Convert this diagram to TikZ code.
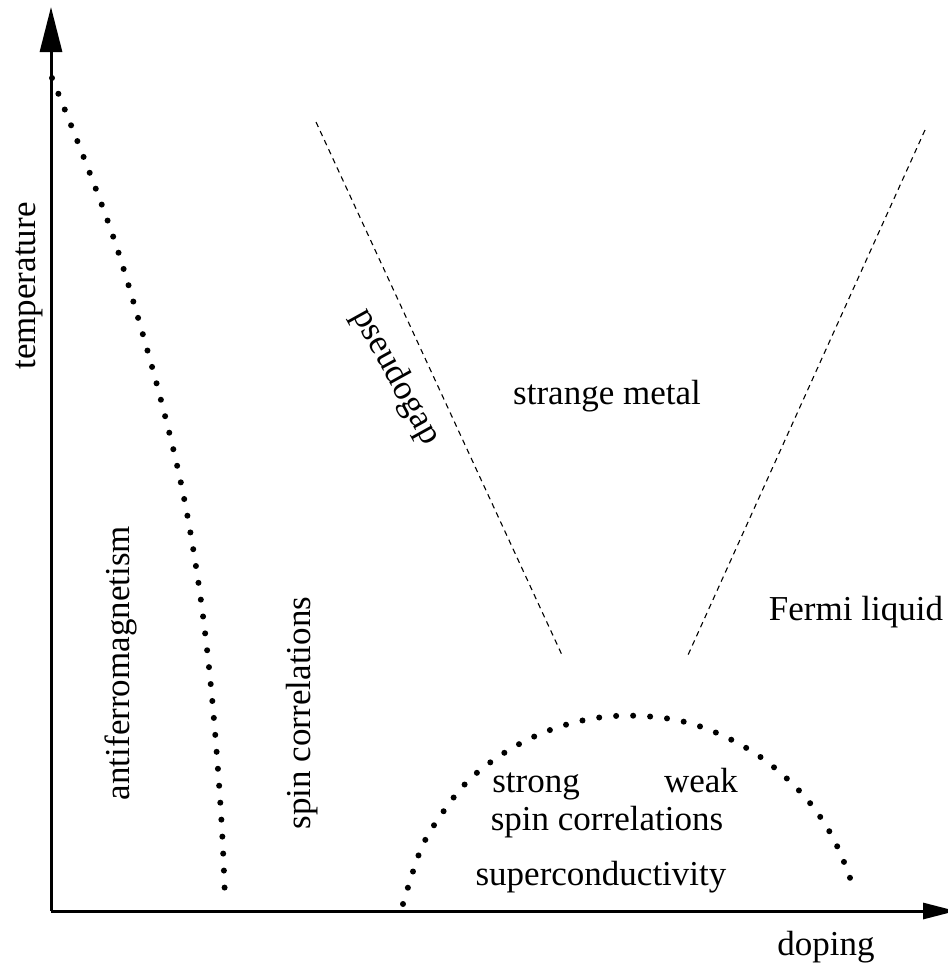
\documentclass[tikz,border=0pt]{standalone}
\usepackage{fontspec}
\setmainfont{Liberation Serif}
\usetikzlibrary{arrows.meta}
\begin{document}
\begin{tikzpicture}[x=1pt,y=-1pt,
  axis/.style={line width=3pt},
  dots/.style={line width=6pt, line cap=round, dash pattern=on 0pt off 17pt},
  dashline/.style={line width=1.1pt, dash pattern=on 5.5pt off 4.5pt},
  lbl/.style={font=\fontsize{35}{42}\selectfont, inner sep=0pt}]
\useasboundingbox (0,0) rectangle (948,975);
% axes
\coordinate (O) at (51,911);
\coordinate (ytip) at (51,7);
\coordinate (xtip) at (956,911);
\draw[axis, -{Triangle[length=45pt,width=22pt]}] (O) -- (ytip);
\draw[axis, -{Triangle[length=33pt,width=16pt]}] (O) -- (xtip);
% labels
\node[lbl, rotate=90, anchor=base] (temp) at (35,286) {temperature};
\node[lbl, anchor=base] (dop) at (826,955) {doping};
\node[lbl, rotate=90, anchor=base] (af) at (129,663) {antiferromagnetism};
\node[lbl, rotate=90, anchor=base] (sc1) at (310,713) {spin correlations};
\node[lbl, rotate=-61] (pg) at (396,377) {pseudogap};
\node[lbl, anchor=base] (sm) at (607,404) {strange metal};
\node[lbl, anchor=base] (fl) at (856,620) {Fermi liquid};
\node[lbl, anchor=base] (st) at (536,792) {strong};
\node[lbl, anchor=base] (wk) at (701,792) {weak};
\node[lbl, anchor=base] (sc2) at (607,830) {spin correlations};
\node[lbl, anchor=base] (sup) at (601,885) {superconductivity};
% pseudogap crossover lines
\coordinate (pgA) at (316,122);
\coordinate (pgB) at (562,655);
\coordinate (flA) at (925,130);
\coordinate (flB) at (688,655);
\draw[dashline] (pgA) -- (pgB);
\draw[dashline] (flA) -- (flB);
% antiferromagnetic boundary
\draw[dots] plot[smooth, tension=0.6] coordinates {(52,78) (84,158) (114,239) (139,321) (162,404) (182,488) (197,573) (208,658) (216,744) (222,830) (225,899)};
% superconducting dome
\draw[dots] plot[smooth, tension=0.6] coordinates {(403,904) (421,849) (441,815) (466,783) (495,759) (529,739) (565,725) (603,717) (642,716) (681,721) (717,733) (753,752) (783,775) (810,803) (832,836) (848,872) (853,890)};
\end{tikzpicture}
\end{document}
